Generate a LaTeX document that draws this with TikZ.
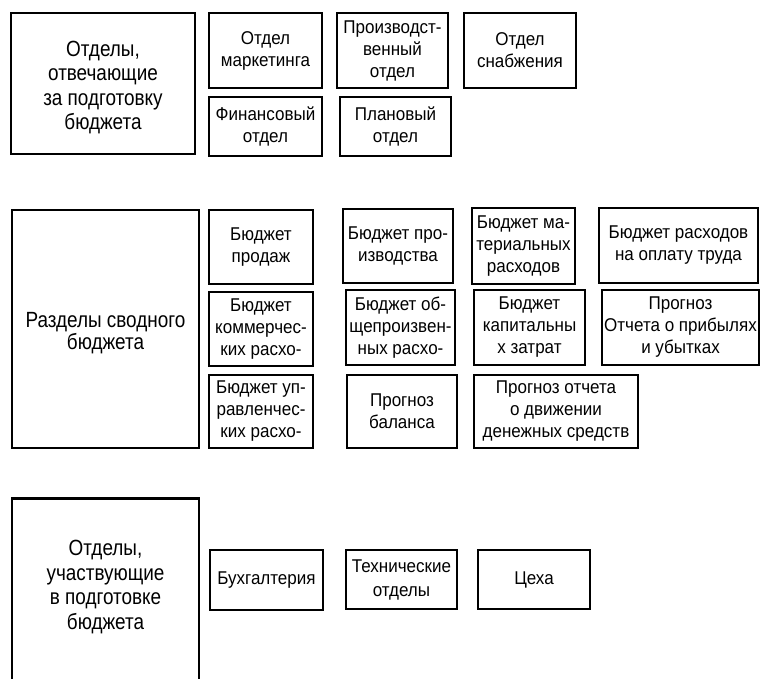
\documentclass[tikz,border=0pt]{standalone}
\usepackage{fontspec}
\setmainfont[FakeStretch=0.92]{Liberation Sans}
\newfontfamily\bigfont[FakeStretch=0.86]{Liberation Sans}
\begin{document}
\begin{tikzpicture}[x=1pt,y=-1pt,
  smallbox/.style={draw=black,line width=1.4pt,align=center,inner sep=0pt,
    font=\fontsize{18.5}{22}\selectfont},
  bigbox/.style={draw=black,line width=2.8pt,inner sep=0pt},
  bigtext/.style={align=center,inner sep=0pt,font=\bigfont\fontsize{22}{24.5}\selectfont}]
\useasboundingbox (0,0) rectangle (760,679);
\clip (0,0) rectangle (760,679);
% --- section 1
\node[bigbox,minimum width=184pt,minimum height=141pt] (A) at (103,83.5) {};
\node[bigtext] (At) at (103,87.5) {Отделы,\\отвечающие\\за подготовку\\бюджета};
\node[smallbox,minimum width=113pt,minimum height=75pt] (a1) at (265.5,50.5) {Отдел\\маркетинга};
\node[smallbox,minimum width=111pt,minimum height=75pt] (a2) at (392.5,50.5) {Производст-\\венный\\отдел};
\node[smallbox,minimum width=112pt,minimum height=75pt] (a3) at (520,50.5) {Отдел\\снабжения};
\node[smallbox,minimum width=113pt,minimum height=59pt] (a4) at (265.5,126.5) {Финансовый\\отдел};
\node[smallbox,minimum width=111pt,minimum height=59pt] (a5) at (395.5,126.5) {Плановый\\отдел};
% --- section 2
\node[bigbox,minimum width=187pt,minimum height=238pt] (B) at (105.5,329) {};
\node[bigtext,font=\bigfont\fontsize{22}{21.5}\selectfont] (Bt) at (105.5,333) {Разделы сводного\\бюджета};
\node[smallbox,minimum width=104pt,minimum height=74pt] (b1) at (261,247) {Бюджет\\продаж};
\node[smallbox,minimum width=110pt,minimum height=74pt] (b2) at (398,246) {Бюджет про-\\изводства};
\node[smallbox,minimum width=103pt,minimum height=76pt] (b3) at (523.5,246) {Бюджет ма-\\териальных\\расходов};
\node[smallbox,minimum width=159pt,minimum height=75pt] (b4) at (678.5,245.5) {Бюджет расходов\\на оплату труда};
\node[smallbox,minimum width=104pt,minimum height=74pt] (b5) at (261,329) {Бюджет\\коммерчес-\\ких расхо-};
\node[smallbox,minimum width=109pt,minimum height=75pt] (b6) at (400.5,327.5) {Бюджет об-\\щепроизвен-\\ных расхо-};
\node[smallbox,minimum width=111pt,minimum height=75pt] (b7) at (529.5,327.5) {Бюджет\\капитальны\\х затрат};
\node[smallbox,minimum width=157pt,minimum height=75pt] (b8) at (680.5,327.5) {Прогноз\\Отчета о прибылях\\и убытках};
\node[smallbox,minimum width=104pt,minimum height=73pt] (b9) at (261,411.5) {Бюджет уп-\\равленчес-\\ких расхо-};
\node[smallbox,minimum width=110pt,minimum height=73pt] (b10) at (402,411.5) {Прогноз\\баланса};
\node[smallbox,minimum width=164pt,minimum height=73pt] (b11) at (556,411.5) {Прогноз отчета\\о движении\\денежных средств};
% --- section 3
\node[bigbox,minimum width=187pt,minimum height=200pt,anchor=north] (C) at (105.5,497) {};
\node[bigtext] (Ct) at (105.5,587) {Отделы,\\участвующие\\в подготовке\\бюджета};
\node[smallbox,minimum width=113pt,minimum height=60pt] (c1) at (266.5,580) {Бухгалтерия};
\node[smallbox,minimum width=111pt,minimum height=59pt,font=\fontsize{18.5}{24}\selectfont] (c2) at (401.5,579.5) {Технические\\отделы};
\node[smallbox,minimum width=112pt,minimum height=59pt] (c3) at (534,579.5) {Цеха};
\end{tikzpicture}
\end{document}
